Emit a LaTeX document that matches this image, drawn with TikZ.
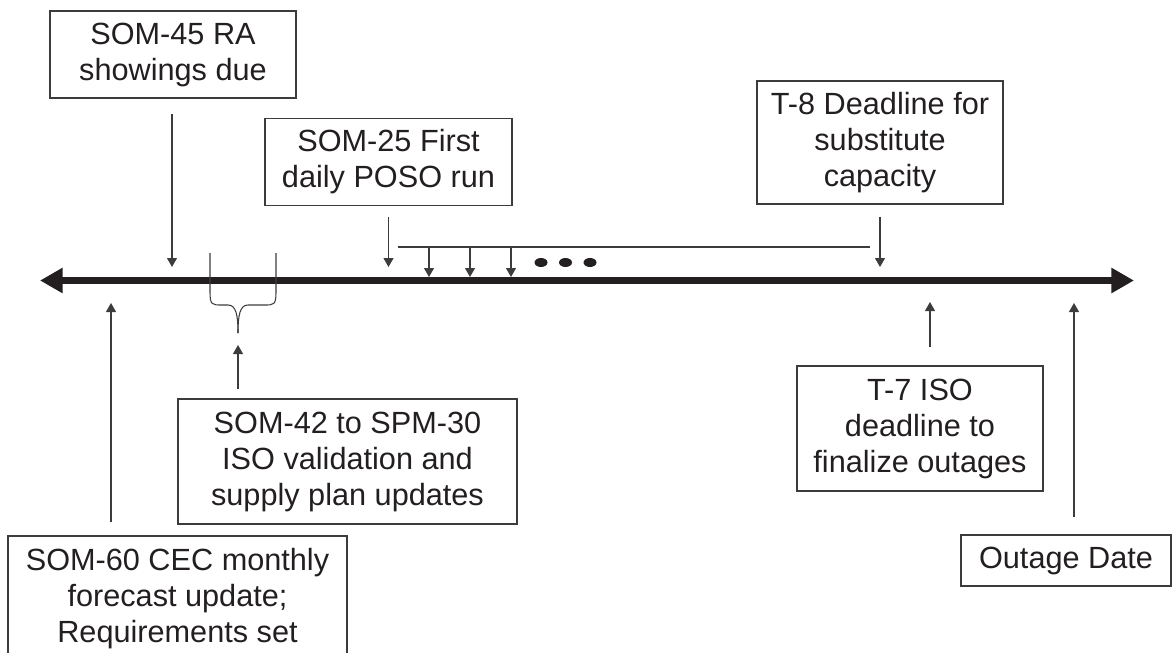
\documentclass[tikz,border=0pt]{standalone}
\usepackage{fontspec}
\setmainfont{Liberation Sans}
\usetikzlibrary{arrows.meta,calc}
\definecolor{ink}{HTML}{231F20}
\definecolor{edge}{HTML}{3C3C3C}
\begin{document}
\begin{tikzpicture}[x=0.75pt,y=-0.75pt,
  box/.style={draw=edge, line width=0.8pt, inner sep=0pt, align=center, text=ink,
    font=\fontsize{23pt}{27pt}\selectfont},
  conn/.style={draw=edge, line width=0.8pt, -{Triangle[length=6.75pt,width=7.5pt]}},
  thinline/.style={draw=edge, line width=0.8pt}]
\useasboundingbox (0,0) rectangle (1174,653);
\clip (0,0) rectangle (1174,653);

% boxes
\node[box, minimum width=246*0.75pt, minimum height=87*0.75pt] (s45) at (173,54.5) {SOM-45 RA\\showings due};
\node[box, minimum width=247*0.75pt, minimum height=87*0.75pt] (s25) at (388.5,162) {SOM-25 First\\daily POSO run};
\node[box, minimum width=246*0.75pt, minimum height=123*0.75pt] (t8) at (880,142.5) {T-8 Deadline for\\substitute\\capacity};
\node[box, minimum width=339*0.75pt, minimum height=125*0.75pt] (s42) at (347.5,461.5) {SOM-42 to SPM-30\\ISO validation and\\supply plan updates};
\node[box, minimum width=246*0.75pt, minimum height=125*0.75pt] (t7) at (920,428.5) {T-7 ISO\\deadline to\\finalize outages};
\node[box, minimum width=210*0.75pt, minimum height=51*0.75pt] (od) at (1066,560.5) {Outage Date};
\node[box, minimum width=339*0.75pt, minimum height=125*0.75pt] (s60) at (177.5,598.5) {SOM-60 CEC monthly\\forecast update;\\Requirements set};

% timeline
\coordinate (tll) at (40,280.5);
\coordinate (tlr) at (1134,280.5);
\draw[ink, line width=5.25pt, {Triangle[length=17pt,width=18pt]}-{Triangle[length=17pt,width=18pt]}] (tll) -- (tlr);

% points on the timeline
\coordinate (p45) at (172,267);
\coordinate (p25) at (388.5,267);
\coordinate (p8) at (880,267);
\coordinate (p7) at (930,302);
\coordinate (pod) at (1074,303);
\coordinate (p60) at (111,303);

% downward arrows
\draw[conn] ($(s45.south)+(-1,15)$) -- (p45);
\draw[conn] ($(s25.south)+(0,10.5)$) -- (p25);
\draw[conn] ($(t8.south)+(0,12)$) -- (p8);

% upward arrows
\draw[conn] ($(t7.north)+(10,-18)$) -- (p7);
\draw[conn] ($(od.north)+(8,-17)$) -- (pod);
\draw[conn] ($(s60.north)+(-66.5,-13)$) -- (p60);

% daily runs bracket
\coordinate (bl) at (398,247);
\coordinate (br) at (870,247);
\draw[thinline] (bl) -- (br);
\coordinate (d1) at (429,277);
\coordinate (d2) at (470,277);
\coordinate (d3) at (511,277);
\draw[conn] (d1 |- bl) -- (d1);
\draw[conn] (d2 |- bl) -- (d2);
\draw[conn] (d3 |- bl) -- (d3);
\fill[ink] (541,262.5) ellipse [x radius=6.5, y radius=4.5];
\fill[ink] (565.5,262.5) ellipse [x radius=6.5, y radius=4.5];
\fill[ink] (590,262.5) ellipse [x radius=6.5, y radius=4.5];

% brace
\coordinate (bp) at (238,333);
\draw[thinline] (210,253) -- (210,292) .. controls (210,305) and (212,305) .. (222,305) -- (228,305)
  .. controls (236,305) and (238,315) .. (bp);
\draw[thinline] (276,253) -- (276,292) .. controls (276,305) and (274,305) .. (264,305) -- (248,305)
  .. controls (240,305) and (238,315) .. (bp);
\coordinate (pb) at (238,345);
\draw[conn] ($(s42.north)+(-109.5,-9)$) -- (pb);
\end{tikzpicture}
\end{document}
